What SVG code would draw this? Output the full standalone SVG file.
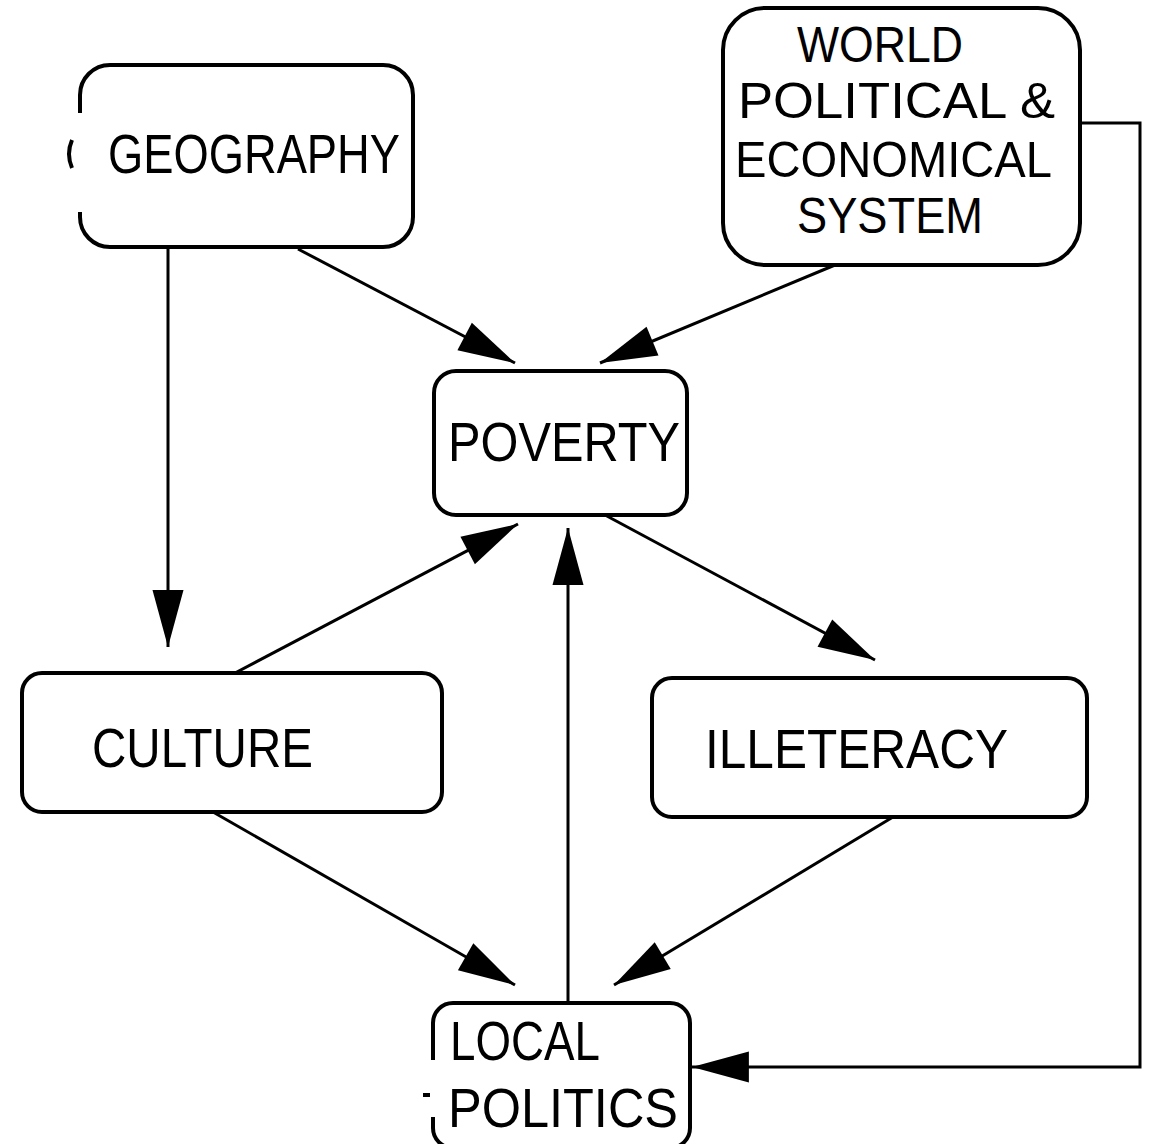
<svg xmlns="http://www.w3.org/2000/svg" width="1153" height="1144" viewBox="0 0 1153 1144">
<style>
.box{fill:none;stroke:#000;stroke-width:4}
.lbl{font-family:"Liberation Sans",Arial,sans-serif;font-size:56px;fill:#000}
.wl{font-size:50px}
.con{fill:none;stroke:#000;stroke-width:3}
</style>
<defs>
<marker id="ah" markerUnits="userSpaceOnUse" markerWidth="60" markerHeight="40" viewBox="-56 -16 58 32" refX="0" refY="0" orient="auto">
<path d="M0,0 L-55,-15 L-55,15 Z" fill="#000"/>
</marker>
</defs>
<rect width="1153" height="1144" fill="#fff"/>
<g id="geography">
<path class="box" d="M80,113 V95 A30 30 0 0 1 110,65 H383 A30 30 0 0 1 413,95 V217 A30 30 0 0 1 383,247 H110 A30 30 0 0 1 80,217 V212"/>
<path class="box" d="M72,140 Q66,154 72,168"/>
<text class="lbl" x="108" y="173" textLength="292" lengthAdjust="spacingAndGlyphs">GEOGRAPHY</text>
</g>
<g id="world">
<rect class="box" x="723" y="8" width="357" height="257" rx="42" ry="42"/>
<text class="lbl wl" x="797" y="62" textLength="166" lengthAdjust="spacingAndGlyphs">WORLD</text>
<text class="lbl wl" x="738" y="118" textLength="317" lengthAdjust="spacingAndGlyphs">POLITICAL &amp;</text>
<text class="lbl wl" x="735" y="177" textLength="317" lengthAdjust="spacingAndGlyphs">ECONOMICAL</text>
<text class="lbl wl" x="797" y="233" textLength="186" lengthAdjust="spacingAndGlyphs">SYSTEM</text>
</g>
<g id="poverty">
<rect class="box" x="434" y="371" width="253" height="144" rx="22" ry="22"/>
<text class="lbl" x="448" y="461" textLength="232" lengthAdjust="spacingAndGlyphs">POVERTY</text>
</g>
<g id="culture">
<rect class="box" x="22" y="673" width="420" height="139" rx="20" ry="20"/>
<text class="lbl" x="92" y="767" textLength="221" lengthAdjust="spacingAndGlyphs">CULTURE</text>
</g>
<g id="illeteracy">
<rect class="box" x="652" y="678" width="435" height="139" rx="20" ry="20"/>
<text class="lbl" x="705" y="768" textLength="303" lengthAdjust="spacingAndGlyphs">ILLETERACY</text>
</g>
<g id="local-politics">
<path class="box" d="M433,1060 V1023 A20 20 0 0 1 453,1003 H670 A20 20 0 0 1 690,1023 V1128 A20 20 0 0 1 670,1148 H453 A20 20 0 0 1 433,1128 V1117"/>
<rect x="423" y="1093" width="7" height="4" fill="#000"/>
<text class="lbl" x="450" y="1060" textLength="150" lengthAdjust="spacingAndGlyphs">LOCAL</text>
<text class="lbl" x="448" y="1127" textLength="230" lengthAdjust="spacingAndGlyphs">POLITICS</text>
</g>
<g id="connectors">
<path class="con" marker-end="url(#ah)" d="M298,249 L515,363"/>
<path class="con" marker-end="url(#ah)" d="M835,265 L600,363"/>
<path class="con" marker-end="url(#ah)" d="M168,247 L168,647"/>
<path class="con" marker-end="url(#ah)" d="M235,673 L518,524"/>
<path class="con" marker-end="url(#ah)" d="M605,515 L875,660"/>
<path class="con" marker-end="url(#ah)" d="M213,812 L515,985"/>
<path class="con" marker-end="url(#ah)" d="M893,817 L614,985"/>
<path class="con" marker-end="url(#ah)" d="M568,1003 L568,528"/>
<path class="con" marker-end="url(#ah)" d="M1080,123 H1140 V1067 H692"/>
</g>
</svg>
